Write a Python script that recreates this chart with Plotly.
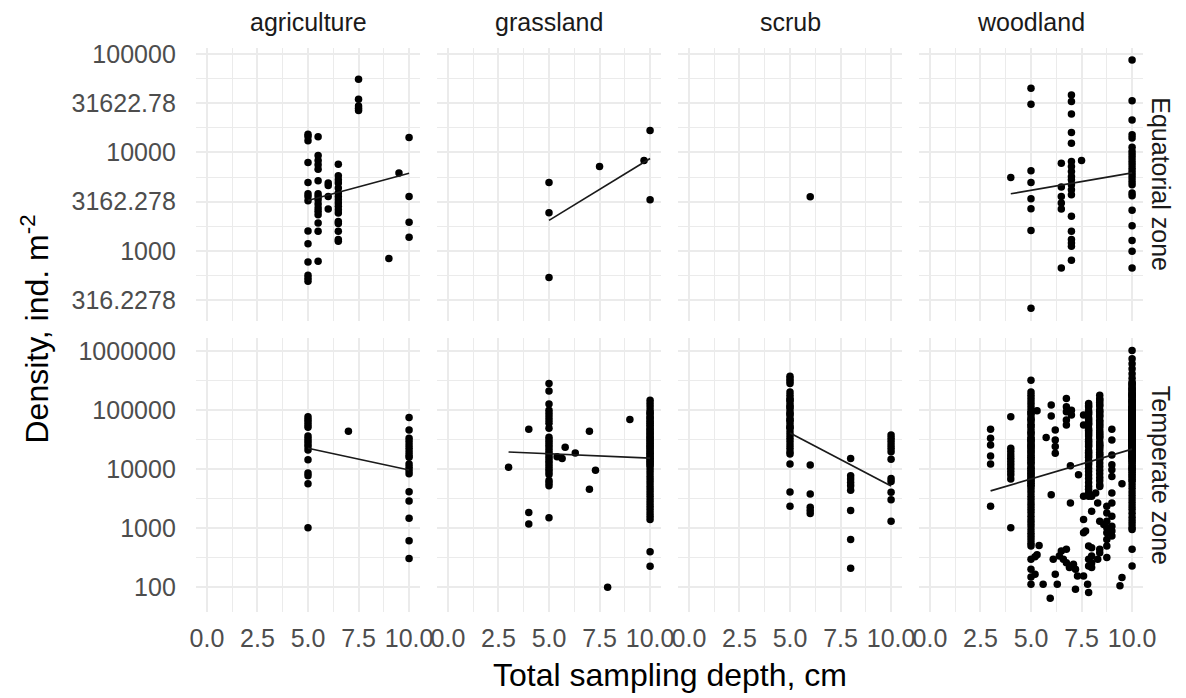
import numpy as np
import plotly.graph_objects as go

habitats = ["agriculture", "grassland", "scrub", "woodland"]
zones = ["Equatorial zone", "Temperate zone"]

# ---------------- data: depth groups (cm) and densities (ind. m^-2) per group ----------------
eq_agri_depths = [5.0, 5.5, 6.0, 6.5, 7.5, 9.0, 9.5, 10.0]
eq_agri_dens = [
    [15300, 14500, 13100, 7900, 4950, 3800, 3570, 3230, 1590, 1180, 771, 565, 526, 491],
    [14400, 9300, 8280, 7480, 6760, 5150, 3800, 3570, 3300, 2990, 2720, 2520, 2330, 1920, 1580, 783],
    [4880, 4620, 3570, 2660],
    [7600, 5790, 5270, 4880, 4340, 3860, 3570, 3300, 3060, 2830, 2620, 2420, 1990, 1890, 1580, 1300, 1250],
    [55300, 34700, 29700, 28100, 26600],
    [834],
    [6170],
    [14200, 3570, 1950, 1370],
]

eq_grass_depths = [5.0, 7.5, 9.7, 10.0]
eq_grass_dens = [
    [4950, 2440, 535],
    [7200],
    [8280],
    [16700, 3300],
]

eq_scrub_depths = [6.0]
eq_scrub_dens = [[3550]]

eq_wood_depths = [4.0, 5.0, 6.5, 7.0, 7.5, 10.0]
eq_wood_dens = [
    [5570],
    [44900, 30900, 6500, 4950, 3380, 2680, 1610, 261],
    [7780, 4440, 3570, 3060, 2660, 670],
    [38400, 32900, 24600, 15900, 12400, 8090, 7200, 6410, 5700, 5270, 4690, 4180, 3720,
     2240, 1580, 1300, 1200, 1110, 802],
    [8280],
    [86900, 33400, 21400, 15100, 14000, 11300, 10200, 9460, 8750, 8090, 7480, 6920, 6410,
     5930, 5480, 5070, 4690, 3860, 3630, 2580, 1800, 1270, 989, 670],
]

te_agri_depths = [5.0, 7.0, 10.0]
te_agri_dens = [
    [78100, 70400, 63500, 57300, 51700, 36800, 33200, 30000, 27000, 24400, 21400, 14500,
     8650, 7800, 5710, 1020],
    [44200],
    [76100, 46500, 33700, 29600, 26000, 22800, 20000, 17600, 16100, 12300, 10900, 9600,
     8430, 4190, 2920, 1490, 617, 307],
]

te_grass_depths = [3.0, 4.0, 5.0, 5.4, 5.65, 5.8, 6.3, 7.0, 7.3, 7.9, 9.0, 10.0]
te_grass_dens = [
    [10900],
    [47800, 1850, 1180],
    [285000, 214000, 128000, 101000, 88900, 78100, 68600, 60300, 49600, 35000, 31600, 28500,
     25700, 23100, 20800, 18800, 16900, 15300, 13800, 12400, 11200, 10100, 9100, 8200, 6500,
     5860, 5280, 1510],
    [16300],
    [15300],
    [23700],
    [19000],
    [44200, 4590],
    [9700],
    [100],
    [70400],
    [149000, 131000, 115000, 101000, 88900, 78100, 68600, 60300, 52900, 46500, 40900, 35900,
     31600, 27700, 24400, 21400, 18800, 16500, 14500, 12800, 11200, 9840, 8650, 7600, 6670,
     5860, 5150, 4530, 3980, 3490, 3070, 2700, 2370, 2080, 1830, 1610, 1410, 403, 228,
     90000, 75000, 64000, 56000, 48000, 42000, 37000, 33000, 29000, 25500, 22500, 19800,
     17500, 15500, 13600, 12000],
]

te_scrub_depths = [5.0, 6.0, 8.0, 10.0]
te_scrub_dens = [
    [378000, 346000, 316000, 285000, 206000, 181000, 159000, 140000, 123000, 108000, 94800,
     83300, 73200, 64300, 56500, 49600, 43600, 38300, 33700, 29600, 26000, 22800, 20000,
     18300, 12300, 4140, 2370, 150000, 115000, 88000, 68000, 52000],
    [11900, 3830, 2280, 2000, 1780],
    [15300, 7800, 6850, 6020, 5290, 4410, 2000, 650, 211],
    [38300, 33700, 29600, 26000, 22800, 20000, 14900, 7030, 6260, 4080, 3070, 1320],
]

te_wood_depths = [3.0, 4.0, 5.0, 5.2, 5.3, 5.4, 5.6, 5.75, 5.95, 6.0, 6.1, 6.2, 6.3, 6.4,
                  6.5, 6.6, 6.75, 6.9, 6.95, 7.0, 7.1, 7.2, 7.3, 7.35, 7.6, 7.7, 7.8, 7.85,
                  8.0, 8.2, 8.3, 8.4, 8.6, 8.75, 9.0, 9.4, 9.5, 10.0]
te_wood_dens = [
    [47800, 33600, 26000, 16900, 12300, 2370],
    [78100, 22900, 20100, 17600, 15500, 13600, 12000, 10500, 9230, 8110, 6850, 1020],
    [324000, 206000, 180000, 160000, 140000, 125000, 110000, 97000, 85000, 75000, 66000,
     58000, 51000, 45000, 40000, 35000, 31000, 27000, 24000, 21000, 18500, 16000, 14000,
     12500, 11000, 9700, 8500, 7500, 6600, 5800, 5100, 4500, 4000, 3500, 3100, 2700, 2400,
     2100, 1850, 1600, 1400, 1250, 1100, 950, 830, 730, 640, 560, 500, 299, 203, 150, 113,
     90000, 70000, 55000, 42000, 33000, 26000, 20000, 15000, 13000, 10500, 9000, 8000,
     7000, 6200, 5400, 30000, 23000, 17000],
    [330, 167],
    [358, 98600],
    [514],
    [113],
    [34600],
    [65],
    [123000, 80200, 3730],
    [299],
    [46600, 31600, 24400, 18800, 167],
    [113],
    [340],
    [413],
    [299],
    [159000, 115000, 94800, 68600, 56500, 441, 262],
    [216],
    [11500, 2700],
    [101000, 83300],
    [246],
    [93, 203],
    [156],
    [8110],
    [83300, 56500, 3500, 1410, 841, 156],
    [898],
    [113],
    [131000, 114000, 99000, 86000, 75000, 65000, 57000, 49000, 43000, 37000, 32000, 28000,
     24500, 21000, 18500, 16000, 14000, 12000, 10500, 9200, 8000, 7000, 6000, 5200, 4600,
     4000, 3500, 501, 299, 231, 82,
     120000, 92000, 70000, 60000, 46000, 40000, 30000, 26000, 19500, 17000, 13000],
    [470, 340, 262, 216, 3490, 1950],
    [3980],
    [2700, 299],
    [181000, 157000, 137000, 119000, 103000, 90000, 78000, 68000, 59000, 51000, 45000,
     39000, 34000, 29500, 25500, 22000, 19500, 17000, 14800, 12800, 11200, 9700, 8400, 7300,
     6400, 5500, 5150, 1320, 387, 441,
     150000, 125000, 97000, 82000, 64000, 55000, 42000, 36000, 27000, 24000, 18000, 15500],
    [1160],
    [2370, 1830, 1320, 1020, 841, 650, 501, 319],
    [47800, 31600, 17600, 12000, 9850, 7600, 3980, 2700, 1610, 1090, 898, 740],
    [106],
    [5710, 147],
    [1040000, 750000, 620000, 510000, 420000, 350000, 290000, 270000, 235000, 205000, 178000,
     155000, 135000, 117000, 102000, 89000, 77000, 67000, 58000, 51000, 44000, 38500, 33500,
     29000, 25000, 22000, 19000, 16500, 14500, 12600, 11000, 9500, 8300, 7200, 6300, 5500,
     4800, 4150, 3600, 3150, 2750, 2400, 2100, 1800, 1550, 1350, 1180, 1030, 957, 441, 231,
     190000, 165000, 145000, 125000, 110000, 95000, 83000, 72000, 62000, 54000, 47000,
     41000, 36000, 31000, 27000, 23500, 20500, 17500, 15500, 13500, 11800, 10200, 8900,
     7700, 6700, 60000, 48000, 40000, 30000, 24000, 18000, 14000, 10500, 80000, 70000,
     65000, 56000, 43000, 34000, 28000,
     300000, 260000, 225000, 200000, 175000, 152000, 133000, 118000, 105000, 93000, 85000,
     76000, 68000, 61000, 55000, 50000, 45000, 39000, 35000, 32000, 29500, 26000, 21500,
     19500, 16500, 230000, 185000, 140000, 112000, 98000, 87000, 74000, 63000, 52000,
     46000, 38000, 33000, 25500, 21000, 16000],
]

panels = [
    [(eq_agri_depths, eq_agri_dens), (eq_grass_depths, eq_grass_dens),
     (eq_scrub_depths, eq_scrub_dens), (eq_wood_depths, eq_wood_dens)],
    [(te_agri_depths, te_agri_dens), (te_grass_depths, te_grass_dens),
     (te_scrub_depths, te_scrub_dens), (te_wood_depths, te_wood_dens)],
]

# tick labels
x_tickvals = [0, 2.5, 5, 7.5, 10]
x_ticktext = ["0.0", "2.5", "5.0", "7.5", "10.0"]
x_minor = [1.25, 3.75, 6.25, 8.75]
y_tickvals = [
    [316.2278, 1000, 3162.278, 10000, 31622.78, 100000],
    [100, 1000, 10000, 100000, 1000000],
]
y_ticktext = [
    ["316.2278", "1000", "3162.278", "10000", "31622.78", "100000"],
    ["100", "1000", "10000", "100000", "1000000"],
]
y_minor = [
    [10 ** 2.75, 10 ** 3.25, 10 ** 3.75, 10 ** 4.25, 10 ** 4.75],
    [10 ** 2.5, 10 ** 3.5, 10 ** 4.5, 10 ** 5.5],
]

# ---------------- layout geometry (pixels) ----------------
W, H = 1186, 698
panel_left = [195.8, 436.8, 677.8, 918.8]
panel_w = 224.4
row_top = [47.5, 338.0]
row_bot = [321.0, 611.5]
y_ranges = [[2.287, 5.066], [1.59, 6.228]]

FONT = "Liberation Sans, Arial, Helvetica, sans-serif"
GRID = "#EBEBEB"

fig = go.Figure()
layout = dict(
    template="none",
    width=W, height=H, margin=dict(l=0, r=0, t=0, b=0, pad=0, autoexpand=False),
    autosize=False,
    paper_bgcolor="white", plot_bgcolor="white", showlegend=False,
    font=dict(family=FONT),
)

for r in range(2):
    for c in range(4):
        idx = r * 4 + c + 1
        sfx = "" if idx == 1 else str(idx)
        depths, dens = panels[r][c]
        xs, ys = [], []
        for d, vals in zip(depths, dens):
            for v in vals:
                xs.append(d)
                ys.append(v)
        xs = np.array(xs, dtype=float)
        ys = np.array(ys, dtype=float)
        fig.add_trace(go.Scatter(
            x=xs, y=ys, mode="markers", xaxis="x" + sfx, yaxis="y" + sfx,
            marker=dict(color="black", size=7.5, line=dict(width=0)),
            hoverinfo="x+y",
        ))
        if len(np.unique(xs)) > 1:
            b, a = np.polyfit(xs, np.log10(ys), 1)
            lx = np.array([xs.min(), xs.max()])
            ly = 10 ** (a + b * lx)
            fig.add_trace(go.Scatter(
                x=lx, y=ly, mode="lines", xaxis="x" + sfx, yaxis="y" + sfx,
                line=dict(color="#1a1a1a", width=1.7), hoverinfo="skip",
            ))
        x0 = panel_left[c] / W
        x1 = (panel_left[c] + panel_w) / W
        y0 = 1 - row_bot[r] / H
        y1 = 1 - row_top[r] / H
        layout["xaxis" + sfx] = dict(
            domain=[x0, x1], anchor="y" + sfx, range=[-0.55, 10.55], automargin=False,
            tickmode="array", tickvals=x_tickvals, ticktext=x_ticktext,
            showticklabels=(r == 1), ticks="outside", ticklen=4,
            tickcolor="rgba(0,0,0,0)",
            tickfont=dict(family=FONT, size=25, color="#4D4D4D"),
            showgrid=True, gridcolor=GRID, gridwidth=2.2, zeroline=False, showline=False,
            minor=dict(tickmode="array", tickvals=x_minor, showgrid=True,
                       gridcolor=GRID, gridwidth=1.3, ticks=""),
        )
        layout["yaxis" + sfx] = dict(
            domain=[y0, y1], anchor="x" + sfx, type="log", range=y_ranges[r],
            automargin=False,
            tickmode="array", tickvals=y_tickvals[r], ticktext=y_ticktext[r],
            showticklabels=(c == 0), ticks="outside", ticklen=14,
            tickcolor="rgba(0,0,0,0)",
            tickfont=dict(family=FONT, size=25, color="#4D4D4D"),
            showgrid=True, gridcolor=GRID, gridwidth=2.2, zeroline=False, showline=False,
            minor=dict(tickmode="array", tickvals=y_minor[r], showgrid=True,
                       gridcolor=GRID, gridwidth=1.3, ticks=""),
        )

annotations = []
for c, name in enumerate(habitats):
    annotations.append(dict(
        text=name, xref="paper", yref="paper",
        x=(panel_left[c] + panel_w / 2) / W, y=1 - 22 / H,
        xanchor="center", yanchor="middle", showarrow=False,
        font=dict(family=FONT, size=25, color="#1A1A1A"),
    ))
for r, name in enumerate(zones):
    annotations.append(dict(
        text=name, xref="paper", yref="paper",
        x=1161 / W, y=1 - (row_top[r] + row_bot[r]) / 2 / H,
        xanchor="center", yanchor="middle", showarrow=False, textangle=90,
        font=dict(family=FONT, size=25, color="#1A1A1A"),
    ))
annotations.append(dict(
    text="Total sampling depth, cm", xref="paper", yref="paper",
    x=669.5 / W, y=1 - 675 / H, xanchor="center", yanchor="middle", showarrow=False,
    font=dict(family=FONT, size=32, color="black"),
))
annotations.append(dict(
    text="Density, ind. m<sup>-2</sup>", xref="paper", yref="paper",
    x=34 / W, y=1 - 329.5 / H, xanchor="center", yanchor="middle", showarrow=False,
    textangle=-90, font=dict(family=FONT, size=32, color="black"),
))
layout["annotations"] = annotations

fig.update_layout(**layout)
fig.write_html(
    "out.html",
    config={"displayModeBar": False, "responsive": False},
    post_script="document.body.style.margin='0';document.body.style.overflow='hidden';",
)
